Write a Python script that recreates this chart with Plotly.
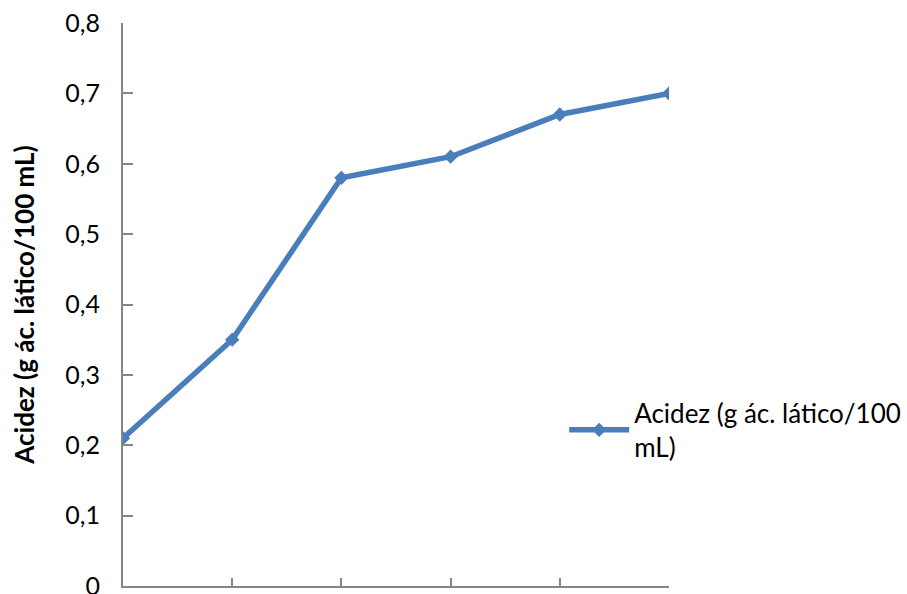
import plotly.graph_objects as go

# Acidity over six sampling points
x_points = [0, 1, 2, 3, 4, 5]
acidez = [0.21, 0.35, 0.58, 0.61, 0.67, 0.70]

y_ticks = [0, 0.1, 0.2, 0.3, 0.4, 0.5, 0.6, 0.7, 0.8]
y_tick_labels = ["0", "0,1", "0,2", "0,3", "0,4", "0,5", "0,6", "0,7", "0,8"]

series_name = "Acidez (g ác. lático/100<br>mL)"
axis_title = "Acidez (g ác. lático/100 mL)"

line_color = "#4a7ebb"
axis_color = "#868686"
font_family = "Lato, 'Open Sans', sans-serif"

fig = go.Figure()
fig.add_trace(go.Scatter(
    x=x_points,
    y=acidez,
    mode="lines+markers",
    name=series_name,
    line=dict(color=line_color, width=5.5),
    marker=dict(symbol="diamond", size=11, color=line_color),
    showlegend=True,
))

fig.update_layout(
    width=907,
    height=594,
    margin=dict(l=123, r=238, t=23, b=8, autoexpand=False),
    paper_bgcolor="white",
    plot_bgcolor="white",
    font=dict(family=font_family, size=25, color="black"),
    showlegend=True,
    legend=dict(
        x=0.808, xanchor="left",
        y=0.277, yanchor="middle",
        font=dict(size=26),
        itemwidth=60,
        bgcolor="rgba(0,0,0,0)",
    ),
    xaxis=dict(
        range=[0, 5],
        showgrid=False,
        zeroline=False,
        showline=True,
        linecolor=axis_color,
        linewidth=2,
        ticks="inside",
        ticklen=8,
        tickwidth=1.5,
        tickcolor=axis_color,
        tickvals=[1, 2, 3, 4, 5],
        showticklabels=False,
    ),
    yaxis=dict(
        range=[0, 0.8],
        showgrid=False,
        zeroline=False,
        showline=True,
        linecolor=axis_color,
        linewidth=2,
        ticks="inside",
        ticklen=10,
        tickwidth=1.5,
        tickcolor=axis_color,
        tickvals=y_ticks,
        ticktext=y_tick_labels,
        tickfont=dict(size=25),
        ticklabelstandoff=16,
        ticklabeloverflow="allow",
        title=dict(text="<b>" + axis_title + "</b>", font=dict(size=26), standoff=23),
    ),
)

fig.write_html("out.html")
